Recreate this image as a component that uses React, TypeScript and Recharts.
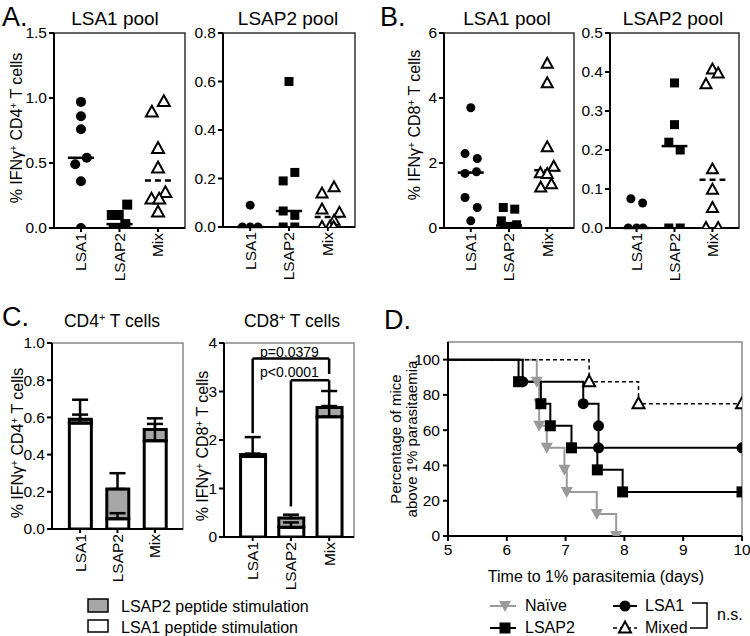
import React from "react";
import {
  Bar,
  ComposedChart,
  ErrorBar,
  Line,
  LineChart,
  ReferenceArea,
  ReferenceLine,
  Scatter,
  ScatterChart,
  XAxis,
  YAxis,
} from "recharts";

const FONT = '"Liberation Sans", Arial, Helvetica, sans-serif';
const GROUPS = ["LSA1", "LSAP2", "Mix"];

// A. CD4+ cells, per group (LSA1, LSAP2, Mix): values and horizontal jitter
const aLsa1Pool = [
  [0.97, 0.86, 0.76, 0.54, 0.49, 0.36, 0.0],
  [0.18, 0.1, 0.1, 0.03, 0, 0, 0],
  [0.97, 0.89, 0.61, 0.46, 0.27, 0.22, 0.22, 0.12],
];
const aLsa1PoolJit = [
  [0, 0, 0, 0.15, -0.15, 0, 0],
  [0.2, -0.2, -0.02, 0.15, -0.15, 0, 0.08],
  [0.15, -0.16, 0, 0, 0.19, -0.17, 0.03, 0],
];
const aLsap2Pool = [
  [0.09, 0, 0, 0],
  [0.6, 0.225, 0.19, 0.066, 0.048, 0, 0],
  [0.163, 0.138, 0.072, 0.058, 0.025, 0, 0, 0],
];
const aLsap2PoolJit = [
  [0, -0.2, 0, 0.2],
  [0, 0.15, -0.15, -0.15, 0.15, -0.15, 0.15],
  [0.16, -0.15, -0.15, 0.3, 0.16, -0.15, 0.05, 0.15],
];

// B. CD8+ cells
const bLsa1Pool = [
  [3.7, 2.29, 2.14, 1.73, 1.68, 0.94, 0.63, 0.22],
  [0.63, 0.58, 0.22, 0.1, 0.05, 0.02, 0, 0],
  [5.05, 4.45, 2.48, 1.88, 1.68, 1.66, 1.34, 1.24],
];
const bLsa1PoolJit = [
  [0, -0.15, 0.17, 0.15, -0.15, -0.15, 0.17, 0],
  [-0.15, 0.15, -0.2, 0.2, 0, -0.1, 0.1, -0.05],
  [0, 0, 0, 0.17, -0.18, 0, 0.11, -0.17],
];
const bLsap2Pool = [
  [0.075, 0.064, 0, 0, 0],
  [0.372, 0.265, 0.22, 0.2, 0, 0],
  [0.406, 0.396, 0.368, 0.15, 0.098, 0.051, 0, 0],
];
const bLsap2PoolJit = [
  [-0.15, 0.16, -0.22, 0, 0.17],
  [0, 0, -0.15, 0.15, -0.15, 0.15],
  [0, 0.15, -0.17, 0, 0, 0, -0.17, 0.15],
];

// C. stacked means (LSA1 stim = white, LSAP2 stim = gray) with SEM
const cd4Lsa1Stim = [0.57, 0.055, 0.475];
const cd4Lsap2Stim = [0.02, 0.16, 0.06];
const cd4Lsa1Err = [0.045, 0.03, 0.09];
const cd4TotalErr = [0.105, 0.085, 0.06];
const cd8Lsa1Stim = [1.66, 0.2, 2.48];
const cd8Lsap2Stim = [0.04, 0.19, 0.19];
const cd8Lsa1Err = [0.06, 0.1, 0.22];
const cd8TotalErr = [0.36, 0.07, 0.34];

// D. survival (time in days, % above 1% parasitaemia)
const naiveTimes = [5, 6.51, 6.55, 6.55, 6.68, 6.98, 7.02, 7.53, 7.86];
const naiveSurv = [100, 87.5, 75, 62.5, 50, 37.5, 25, 12.5, 0];
const lsap2Times = [5, 6.2, 6.58, 6.74, 7.1, 7.54, 7.97, 10];
const lsap2Surv = [100, 87.5, 75, 62.5, 50, 37.5, 25, 25];
const lsa1Times = [5, 6.27, 7.3, 7.56, 7.56, 10];
const lsa1Surv = [100, 87.5, 75, 62.5, 50, 50];
const mixedTimes = [5, 7.4, 8.24, 10];
const mixedSurv = [100, 87.5, 75, 75];

const AXIS = { stroke: "#000", strokeWidth: 2 };
const GRAY = "#a6a6a6";
const TXT = "#000";
const TICK_SIZE = 15.5;

const median = (a: number[]) => {
  const s = [...a].sort((p, q) => p - q);
  const n = s.length;
  return n % 2 ? s[(n - 1) / 2] : (s[n / 2 - 1] + s[n / 2]) / 2;
};

const RotTick = (props: any) => {
  const { x, y, payload } = props;
  return (
    <text
      transform={`translate(${x},${y}) rotate(-90)`}
      textAnchor="end"
      dy="0.35em"
      fontSize={TICK_SIZE}
      fill={TXT}
      fontFamily={FONT}
    >
      {GROUPS[payload.value - 1]}
    </text>
  );
};

const yTick = (digits: number) => (props: any) => (
  <text x={props.x} y={props.y} textAnchor="end" dy="0.35em" fontSize={TICK_SIZE} fill={TXT} fontFamily={FONT}>
    {Number(props.payload.value).toFixed(digits)}
  </text>
);

const xNumTick = (props: any) => (
  <text x={props.x} y={props.y} textAnchor="middle" dy="0.75em" fontSize={TICK_SIZE} fill={TXT} fontFamily={FONT}>
    {props.payload.value}
  </text>
);

const circleShape = (r: number) => (p: any) => (
  <circle cx={p.cx} cy={p.cy} r={r} fill="#000" />
);
const squareShape = (r: number) => (p: any) => (
  <rect x={p.cx - r} y={p.cy - r} width={2 * r} height={2 * r} fill="#000" />
);
const triShape = (r: number) => (p: any) => (
  <path
    d={`M${p.cx},${p.cy - r * 1.1}L${p.cx + r},${p.cy + r * 0.7}L${p.cx - r},${p.cy + r * 0.7}Z`}
    fill="#fff"
    stroke="#000"
    strokeWidth={2}
  />
);
const SHAPES = [circleShape, squareShape, triShape];

type Box = { x: number; y: number; w: number; h: number };

function DotPanel(props: Box & {
  yMax: number;
  yTicks: number[];
  digits: number;
  values: number[][];
  jitter: number[][];
  r: number;
}) {
  const { x, y, w, h, yMax, yTicks, digits, values, jitter, r } = props;
  return (
    <div style={{ position: "absolute", left: x - 60, top: y - 30 }}>
      <ScatterChart width={w + 70} height={h + 100} margin={{ top: 30, right: 10, bottom: 0, left: 0 }}>
        <XAxis
          type="number"
          dataKey="x"
          domain={[0.3, 3.7]}
          ticks={[1, 2, 3]}
          height={70}
          tickSize={4}
          tickMargin={1}
          tick={RotTick}
          axisLine={AXIS}
          tickLine={AXIS}
          allowDataOverflow
        />
        <YAxis
          type="number"
          dataKey="y"
          domain={[0, yMax]}
          ticks={yTicks}
          width={60}
          tickSize={5}
          tickMargin={2}
          tick={yTick(digits)}
          axisLine={AXIS}
          tickLine={AXIS}
          allowDataOverflow
        />
        <ReferenceArea x1={0.3} x2={3.7} y1={0} y2={yMax} fill="none" stroke="#333" strokeWidth={1.5} ifOverflow="visible" />
        {values.map((vals, gi) => (
          <Scatter
            key={"s" + gi}
            data={vals.map((v, i) => ({ x: gi + 1 + jitter[gi][i], y: v }))}
            shape={SHAPES[gi](gi === 2 ? r + 1 : r)}
            isAnimationActive={false}
          />
        ))}
        {values.map((vals, gi) => {
          const m = median(vals);
          return (
            <ReferenceLine
              key={"m" + gi}
              segment={[
                { x: gi + 1 - 0.34, y: m },
                { x: gi + 1 + 0.34, y: m },
              ]}
              stroke="#000"
              strokeWidth={2.5}
              strokeDasharray={gi === 2 ? "6 4" : undefined}
              ifOverflow="visible"
            />
          );
        })}
      </ScatterChart>
    </div>
  );
}

function BarPanel(props: Box & {
  yMax: number;
  yTicks: number[];
  digits: number;
  xMax: number;
  white: number[];
  gray: number[];
  whiteErr: number[];
  totalErr: number[];
  barSize: number;
  children?: React.ReactNode;
}) {
  const { x, y, w, h, yMax, yTicks, digits, xMax, white, gray, whiteErr, totalErr, barSize } = props;
  const data = GROUPS.map((_, i) => ({ x: i + 1, white: white[i], gray: gray[i] }));
  const errWhite = GROUPS.map((_, i) => ({ x: i + 1, y: white[i], err: [0, whiteErr[i]] }));
  const errTotal = GROUPS.map((_, i) => ({ x: i + 1, y: white[i] + gray[i], err: [0, totalErr[i]] }));
  return (
    <div style={{ position: "absolute", left: x - 60, top: y - 30 }}>
      <ComposedChart width={w + 70} height={h + 100} data={data} margin={{ top: 30, right: 10, bottom: 0, left: 0 }}>
        <XAxis
          type="number"
          dataKey="x"
          domain={[0.25, xMax]}
          ticks={[1, 2, 3]}
          height={70}
          tickSize={4}
          tickMargin={1}
          tick={RotTick}
          axisLine={AXIS}
          tickLine={AXIS}
          allowDataOverflow
        />
        <YAxis
          type="number"
          domain={[0, yMax]}
          ticks={yTicks}
          width={60}
          tickSize={5}
          tickMargin={2}
          tick={yTick(digits)}
          axisLine={AXIS}
          tickLine={AXIS}
          allowDataOverflow
        />
        <ReferenceArea x1={0.25} x2={xMax} y1={0} y2={yMax} fill="none" stroke="#888" strokeWidth={1.5} ifOverflow="visible" />
        <Bar dataKey="white" stackId="s" fill="#fff" stroke="#000" strokeWidth={3} barSize={barSize} isAnimationActive={false} />
        <Bar dataKey="gray" stackId="s" fill={GRAY} stroke="#000" strokeWidth={3} barSize={barSize} isAnimationActive={false} />
        <Scatter data={errWhite} dataKey="y" shape={() => <g />} isAnimationActive={false}>
          <ErrorBar dataKey="err" direction="y" width={8} stroke="#000" strokeWidth={2.5} />
        </Scatter>
        <Scatter data={errTotal} dataKey="y" shape={() => <g />} isAnimationActive={false}>
          <ErrorBar dataKey="err" direction="y" width={8} stroke="#000" strokeWidth={2.5} />
        </Scatter>
        {props.children}
      </ComposedChart>
    </div>
  );
}

const survival = (times: number[], surv: number[]) =>
  times.map((t, i) => ({ t, s: surv[i], m: i > 0 }));

const markDot = (draw: (cx: number, cy: number) => React.ReactElement) => (p: any) =>
  p.payload && p.payload.m ? (
    <g key={"d" + p.index}>{draw(p.cx, p.cy)}</g>
  ) : (
    <g key={"d" + p.index} />
  );

const downTri = (cx: number, cy: number, c: string) => (
  <path d={`M${cx - 6},${cy - 5}L${cx + 6},${cy - 5}L${cx},${cy + 6}Z`} fill={c} />
);
const square = (cx: number, cy: number) => (
  <rect x={cx - 5.5} y={cy - 5.5} width={11} height={11} fill="#000" />
);
const disc = (cx: number, cy: number) => <circle cx={cx} cy={cy} r={5.5} fill="#000" />;
const openTri = (cx: number, cy: number) => (
  <path d={`M${cx},${cy - 6.5}L${cx + 6},${cy + 4.5}L${cx - 6},${cy + 4.5}Z`} fill="#fff" stroke="#000" strokeWidth={2} />
);

function SurvivalPanel({ x, y, w, h }: Box) {
  return (
    <div style={{ position: "absolute", left: x - 60, top: y - 30 }}>
      <LineChart width={w + 70} height={h + 100} margin={{ top: 30, right: 10, bottom: 0, left: 0 }}>
        <XAxis
          type="number"
          dataKey="t"
          domain={[5, 10]}
          ticks={[5, 6, 7, 8, 9, 10]}
          height={70}
          tickSize={5}
          tickMargin={2}
          tick={xNumTick}
          axisLine={AXIS}
          tickLine={AXIS}
          allowDataOverflow
        />
        <YAxis
          type="number"
          domain={[0, 110]}
          ticks={[0, 20, 40, 60, 80, 100]}
          width={60}
          tickSize={5}
          tickMargin={3}
          tick={yTick(0)}
          axisLine={AXIS}
          tickLine={AXIS}
          allowDataOverflow
        />
        <ReferenceArea x1={5} x2={10} y1={0} y2={110} fill="none" stroke="#888" strokeWidth={1.5} ifOverflow="visible" />
        <Line data={survival(naiveTimes, naiveSurv)} dataKey="s" type="stepAfter" stroke="#9a9a9a" strokeWidth={2} dot={markDot((cx, cy) => downTri(cx, cy, "#9a9a9a"))} isAnimationActive={false} />
        <Line data={survival(lsap2Times, lsap2Surv)} dataKey="s" type="stepAfter" stroke="#000" strokeWidth={2} dot={markDot(square)} isAnimationActive={false} />
        <Line data={survival(lsa1Times, lsa1Surv)} dataKey="s" type="stepAfter" stroke="#000" strokeWidth={2} dot={markDot(disc)} isAnimationActive={false} />
        <Line data={survival(mixedTimes, mixedSurv)} dataKey="s" type="stepAfter" stroke="#000" strokeWidth={1.5} strokeDasharray="4 3" dot={markDot(openTri)} isAnimationActive={false} />
      </LineChart>
    </div>
  );
}

const YLabel = ({ cx, cy, cell }: { cx: number; cy: number; cell: string }) => (
  <text transform={`translate(${cx},${cy}) rotate(-90)`} textAnchor="middle" dy="0.35em" fontSize={16}>
    % IFNγ<tspan dy={-5} fontSize={10}>+</tspan>
    <tspan dy={5}> {cell}</tspan>
    <tspan dy={-5} fontSize={10}>+</tspan>
    <tspan dy={5}> T cells</tspan>
  </text>
);

function Overlay() {
  return (
    <svg width={750} height={636} style={{ position: "absolute", left: 0, top: 0, pointerEvents: "none" }} fontFamily={FONT} fill={TXT}>
      <text x={2} y={26} fontSize={27}>A.</text>
      <text x={380} y={26} fontSize={27}>B.</text>
      <text x={2} y={326} fontSize={27}>C.</text>
      <text x={384} y={329} fontSize={27}>D.</text>

      <text x={115} y={25} fontSize={19} textAnchor="middle">LSA1 pool</text>
      <text x={288} y={25} fontSize={19} textAnchor="middle">LSAP2 pool</text>
      <text x={507} y={25} fontSize={19} textAnchor="middle">LSA1 pool</text>
      <text x={673} y={25} fontSize={19} textAnchor="middle">LSAP2 pool</text>

      <text x={112} y={327} fontSize={17.5} textAnchor="middle">
        CD4<tspan dy={-6} fontSize={11}>+</tspan><tspan dy={6}> T cells</tspan>
      </text>
      <text x={292} y={327} fontSize={17.5} textAnchor="middle">
        CD8<tspan dy={-6} fontSize={11}>+</tspan><tspan dy={6}> T cells</tspan>
      </text>

      <YLabel cx={16} cy={128} cell="CD4" />
      <YLabel cx={414} cy={125} cell="CD8" />
      <YLabel cx={17} cy={443} cell="CD4" />
      <YLabel cx={202} cy={446} cell="CD8" />

      <text x={260} y={357} fontSize={14}>p=0.0379</text>
      <text x={260} y={377} fontSize={14}>p&lt;0.0001</text>

      <rect x={88} y={599} width={20} height={13} fill={GRAY} stroke="#000" strokeWidth={1.5} />
      <text x={121} y={612} fontSize={16}>LSAP2 peptide stimulation</text>
      <rect x={88} y={620} width={20} height={12} fill="#fff" stroke="#000" strokeWidth={1.5} />
      <text x={121} y={633} fontSize={16}>LSA1 peptide stimulation</text>

      <text transform="translate(396,439) rotate(-90)" textAnchor="middle" dy="0.35em" fontSize={15}>Percentage of mice</text>
      <text transform="translate(412,439) rotate(-90)" textAnchor="middle" dy="0.35em" fontSize={15}>above 1% parasitaemia</text>
      <text x={596} y={582} fontSize={16} textAnchor="middle">Time to 1% parasitemia (days)</text>

      <line x1={490} x2={516} y1={606} y2={606} stroke="#9a9a9a" strokeWidth={2} />
      {downTri(505, 606, "#9a9a9a")}
      <text x={525} y={611} fontSize={16}>Naïve</text>
      <line x1={490} x2={516} y1={628} y2={628} stroke="#000" strokeWidth={2} />
      {square(505, 628)}
      <text x={525} y={633} fontSize={16}>LSAP2</text>
      <line x1={613} x2={637} y1={606} y2={606} stroke="#000" strokeWidth={2} />
      {disc(625, 606)}
      <text x={645} y={611} fontSize={16}>LSA1</text>
      <line x1={613} x2={637} y1={628} y2={628} stroke="#000" strokeWidth={1.5} strokeDasharray="4 3" />
      {openTri(625, 628)}
      <text x={645} y={633} fontSize={16}>Mixed</text>
      <path d="M692,603H707V628H690" fill="none" stroke="#000" strokeWidth={1.5} />
      <text x={717} y={620} fontSize={16}>n.s.</text>
    </svg>
  );
}

export default function App() {
  return (
    <div style={{ position: "absolute", left: 0, top: 0, width: 750, height: 636, background: "#fff", fontFamily: FONT }}>
      <DotPanel x={54} y={33} w={131} h={195} yMax={1.5} yTicks={[0, 0.5, 1, 1.5]} digits={1} values={aLsa1Pool} jitter={aLsa1PoolJit} r={5} />
      <DotPanel x={223} y={33} w={132} h={194} yMax={0.8} yTicks={[0, 0.2, 0.4, 0.6, 0.8]} digits={1} values={aLsap2Pool} jitter={aLsap2PoolJit} r={4.5} />
      <DotPanel x={444} y={33} w={130} h={195} yMax={6} yTicks={[0, 2, 4, 6]} digits={0} values={bLsa1Pool} jitter={bLsa1PoolJit} r={4.5} />
      <DotPanel x={610} y={33} w={129} h={195} yMax={0.5} yTicks={[0, 0.1, 0.2, 0.3, 0.4, 0.5]} digits={1} values={bLsap2Pool} jitter={bLsap2PoolJit} r={4.5} />

      <BarPanel x={52} y={343} w={131} h={186} yMax={1} yTicks={[0, 0.2, 0.4, 0.6, 0.8, 1]} digits={1} xMax={3.75}
        white={cd4Lsa1Stim} gray={cd4Lsap2Stim} whiteErr={cd4Lsa1Err} totalErr={cd4TotalErr} barSize={22} />
      <BarPanel x={224} y={343} w={130} h={194} yMax={4} yTicks={[0, 1, 2, 3, 4]} digits={0} xMax={3.65}
        white={cd8Lsa1Stim} gray={cd8Lsap2Stim} whiteErr={cd8Lsa1Err} totalErr={cd8TotalErr} barSize={25}>
        <ReferenceLine segment={[{ x: 1, y: 2.14 }, { x: 1, y: 3.68 }]} stroke="#000" strokeWidth={2.5} ifOverflow="visible" />
        <ReferenceLine segment={[{ x: 1, y: 3.68 }, { x: 3, y: 3.68 }]} stroke="#000" strokeWidth={2.5} ifOverflow="visible" />
        <ReferenceLine segment={[{ x: 3, y: 3.68 }, { x: 3, y: 3.36 }]} stroke="#000" strokeWidth={2.5} ifOverflow="visible" />
        <ReferenceLine segment={[{ x: 2, y: 0.63 }, { x: 2, y: 3.23 }]} stroke="#000" strokeWidth={2.5} ifOverflow="visible" />
        <ReferenceLine segment={[{ x: 2, y: 3.23 }, { x: 3, y: 3.23 }]} stroke="#000" strokeWidth={2.5} ifOverflow="visible" />
        <ReferenceLine segment={[{ x: 3, y: 3.23 }, { x: 3, y: 3.03 }]} stroke="#000" strokeWidth={2.5} ifOverflow="visible" />
      </BarPanel>

      <SurvivalPanel x={448} y={342} w={294} h={194} />
      <Overlay />
    </div>
  );
}
